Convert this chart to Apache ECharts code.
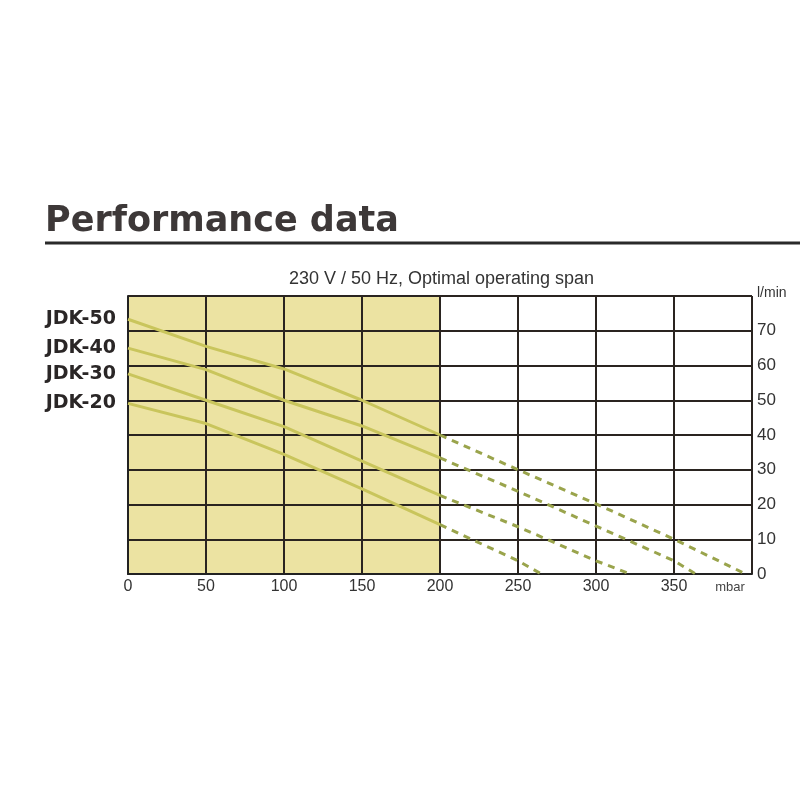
<!DOCTYPE html>
<html>
<head>
<meta charset="utf-8">
<script src="https://cdn.jsdelivr.net/npm/echarts@6/dist/echarts.min.js"></script>
<style>
html,body{margin:0;padding:0;background:#fff;}
#chart{width:800px;height:800px;}
</style>
</head>
<body>
<div id="chart"></div>
<script>
// ---- data ----
const models = ['JDK-50', 'JDK-40', 'JDK-30', 'JDK-20'];
// optimal operating span (solid part), pressure in mbar
const spanPressure = [0, 50, 100, 150, 200];
const jdk50Span = [73.3, 65.5, 59, 50, 40];
const jdk40Span = [65, 58.8, 50, 42.6, 33.4];
const jdk30Span = [57.6, 50, 42.4, 32.5, 22.6];
const jdk20Span = [49.1, 43.3, 34.4, 24.5, 14.2];
// beyond optimal span (dashed part)
const jdk50ExtP = [200, 250, 300, 350, 396];
const jdk50Ext  = [40, 30, 20.2, 10, 0];
const jdk40ExtP = [200, 250, 300, 350, 364];
const jdk40Ext  = [33.4, 23.8, 13.8, 3.8, 0];
const jdk30ExtP = [200, 250, 300, 322];
const jdk30Ext  = [22.6, 13.6, 3.8, 0];
const jdk20ExtP = [200, 250, 265];
const jdk20Ext  = [14.2, 3.8, 0];
const optimalSpan = [0, 200];
const xTicks = [0, 50, 100, 150, 200, 250, 300, 350];
const yTicks = [0, 10, 20, 30, 40, 50, 60, 70];

const spans = [jdk50Span, jdk40Span, jdk30Span, jdk20Span];
const extP = [jdk50ExtP, jdk40ExtP, jdk30ExtP, jdk20ExtP];
const extV = [jdk50Ext, jdk40Ext, jdk30Ext, jdk20Ext];

const zip = (xs, ys) => xs.map((x, i) => [x, ys[i]]);

const series = [];
// shaded optimal-span background
series.push({
  type: 'line', data: [], z: -1, silent: true,
  markArea: {
    silent: true, z: -1,
    itemStyle: { color: '#ece3a2' },
    data: [[{ xAxis: optimalSpan[0] }, { xAxis: optimalSpan[1] }]]
  }
});
models.forEach((m, k) => {
  series.push({
    name: m, type: 'line', data: zip(spanPressure, spans[k]),
    symbol: 'circle', symbolSize: 0.1, showSymbol: true,
    lineStyle: { color: '#c9c55c', width: 3 },
    itemStyle: { color: '#c9c55c' },
    label: {
      show: true, position: 'left', distance: 12,
      formatter: p => p.dataIndex === 0 ? m : '',
      fontFamily: 'DejaVu Sans', fontWeight: 'bold', fontSize: 19, color: '#2a2626'
    },
    z: 4
  });
  series.push({
    name: m + ' ext', type: 'line', data: zip(extP[k], extV[k]),
    symbol: 'none',
    lineStyle: { color: '#9aa44c', width: 3, type: [7, 6] },
    z: 4
  });
});

const chart = echarts.init(document.getElementById('chart'));
chart.setOption({
  animation: false,
  backgroundColor: '#ffffff',
  title: {
    text: 'Performance data', left: 40, top: 199,
    textStyle: { fontFamily: 'DejaVu Sans', fontWeight: 'bold', fontSize: 35, color: '#3d3838' }
  },
  graphic: [
    { type: 'line', shape: { x1: 45, y1: 243, x2: 800, y2: 243 }, style: { stroke: '#2a2a2a', lineWidth: 3 } },
    { type: 'text', x: 441.5, y: 279, style: {
        text: '230 V / 50 Hz, Optimal operating span', align: 'center', verticalAlign: 'middle',
        fontFamily: 'Liberation Sans, Arial', fontSize: 18, fill: '#333333' } }
  ],
  grid: { left: 128, right: 48, top: 296, bottom: 226 },
  xAxis: {
    type: 'value', min: 0, max: 400, interval: 50, z: 2,
    axisLine: { show: true, lineStyle: { color: '#222', width: 2 } },
    axisTick: { show: false },
    splitLine: { show: true, showMinLine: true, showMaxLine: true, lineStyle: { color: '#2a2420', width: 2 } },
    axisLabel: {
      margin: 5, fontFamily: 'Liberation Sans, Arial', fontSize: 16, color: '#333',
      formatter: v => v === 400 ? '{m|mbar}' : (xTicks.includes(v) ? String(v) : ''),
      rich: { m: { fontSize: 13, color: '#444', padding: [2, 44, 0, 0] } }
    }
  },
  yAxis: {
    type: 'value', position: 'right', min: 0, max: 80, interval: 10, z: 2,
    axisLine: { show: true, lineStyle: { color: '#222', width: 2 } },
    axisTick: { show: false },
    splitLine: { show: true, showMinLine: true, showMaxLine: true, lineStyle: { color: '#2a2420', width: 2 } },
    axisLabel: {
      margin: 5, fontFamily: 'Liberation Sans, Arial', fontSize: 17, color: '#333',
      formatter: v => v === 80 ? '{u|l/min}' : (yTicks.includes(v) ? String(v) : ''),
      rich: { u: { fontSize: 14, color: '#333', padding: [0, 0, 6, 0] } }
    }
  },
  series: series
});
</script>
</body>
</html>
